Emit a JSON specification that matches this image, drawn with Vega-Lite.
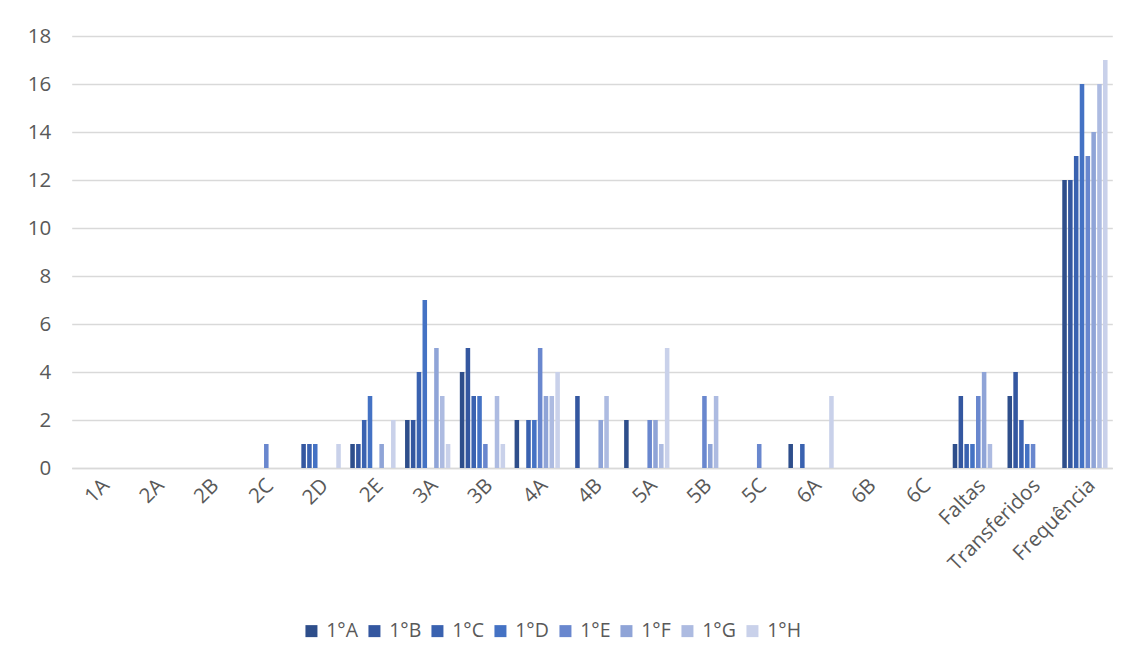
{
  "$schema": "https://vega.github.io/schema/vega-lite/v6.json",
  "width": 1040.6,
  "height": 432,
  "autosize": "none",
  "padding": {"left": 71.7, "top": 36, "right": 21.7, "bottom": 193},
  "background": "white",
  "config": {
    "view": {"stroke": null},
    "font": "Open Sans",
    "axis": {"labelFont": "Open Sans", "labelColor": "#595959", "labelFontSize": 20.5, "ticks": false, "title": null}
  },
  "data": {
    "values": [
      {"cat": "2C", "turma": "1°E", "v": 1},
      {"cat": "2D", "turma": "1°B", "v": 1},
      {"cat": "2D", "turma": "1°C", "v": 1},
      {"cat": "2D", "turma": "1°D", "v": 1},
      {"cat": "2D", "turma": "1°H", "v": 1},
      {"cat": "2E", "turma": "1°A", "v": 1},
      {"cat": "2E", "turma": "1°B", "v": 1},
      {"cat": "2E", "turma": "1°C", "v": 2},
      {"cat": "2E", "turma": "1°D", "v": 3},
      {"cat": "2E", "turma": "1°F", "v": 1},
      {"cat": "2E", "turma": "1°H", "v": 2},
      {"cat": "3A", "turma": "1°A", "v": 2},
      {"cat": "3A", "turma": "1°B", "v": 2},
      {"cat": "3A", "turma": "1°C", "v": 4},
      {"cat": "3A", "turma": "1°D", "v": 7},
      {"cat": "3A", "turma": "1°F", "v": 5},
      {"cat": "3A", "turma": "1°G", "v": 3},
      {"cat": "3A", "turma": "1°H", "v": 1},
      {"cat": "3B", "turma": "1°A", "v": 4},
      {"cat": "3B", "turma": "1°B", "v": 5},
      {"cat": "3B", "turma": "1°C", "v": 3},
      {"cat": "3B", "turma": "1°D", "v": 3},
      {"cat": "3B", "turma": "1°E", "v": 1},
      {"cat": "3B", "turma": "1°G", "v": 3},
      {"cat": "3B", "turma": "1°H", "v": 1},
      {"cat": "4A", "turma": "1°A", "v": 2},
      {"cat": "4A", "turma": "1°C", "v": 2},
      {"cat": "4A", "turma": "1°D", "v": 2},
      {"cat": "4A", "turma": "1°E", "v": 5},
      {"cat": "4A", "turma": "1°F", "v": 3},
      {"cat": "4A", "turma": "1°G", "v": 3},
      {"cat": "4A", "turma": "1°H", "v": 4},
      {"cat": "4B", "turma": "1°B", "v": 3},
      {"cat": "4B", "turma": "1°F", "v": 2},
      {"cat": "4B", "turma": "1°G", "v": 3},
      {"cat": "5A", "turma": "1°A", "v": 2},
      {"cat": "5A", "turma": "1°E", "v": 2},
      {"cat": "5A", "turma": "1°F", "v": 2},
      {"cat": "5A", "turma": "1°G", "v": 1},
      {"cat": "5A", "turma": "1°H", "v": 5},
      {"cat": "5B", "turma": "1°E", "v": 3},
      {"cat": "5B", "turma": "1°F", "v": 1},
      {"cat": "5B", "turma": "1°G", "v": 3},
      {"cat": "5C", "turma": "1°E", "v": 1},
      {"cat": "6A", "turma": "1°A", "v": 1},
      {"cat": "6A", "turma": "1°C", "v": 1},
      {"cat": "6A", "turma": "1°H", "v": 3},
      {"cat": "Faltas", "turma": "1°A", "v": 1},
      {"cat": "Faltas", "turma": "1°B", "v": 3},
      {"cat": "Faltas", "turma": "1°C", "v": 1},
      {"cat": "Faltas", "turma": "1°D", "v": 1},
      {"cat": "Faltas", "turma": "1°E", "v": 3},
      {"cat": "Faltas", "turma": "1°F", "v": 4},
      {"cat": "Faltas", "turma": "1°G", "v": 1},
      {"cat": "Transferidos", "turma": "1°A", "v": 3},
      {"cat": "Transferidos", "turma": "1°B", "v": 4},
      {"cat": "Transferidos", "turma": "1°C", "v": 2},
      {"cat": "Transferidos", "turma": "1°D", "v": 1},
      {"cat": "Transferidos", "turma": "1°E", "v": 1},
      {"cat": "Frequência", "turma": "1°A", "v": 12},
      {"cat": "Frequência", "turma": "1°B", "v": 12},
      {"cat": "Frequência", "turma": "1°C", "v": 13},
      {"cat": "Frequência", "turma": "1°D", "v": 16},
      {"cat": "Frequência", "turma": "1°E", "v": 13},
      {"cat": "Frequência", "turma": "1°F", "v": 14},
      {"cat": "Frequência", "turma": "1°G", "v": 16},
      {"cat": "Frequência", "turma": "1°H", "v": 17}
    ]
  },
  "mark": {"type": "bar"},
  "encoding": {
    "x": {
      "field": "cat", "type": "nominal", "sort": null,
      "scale": {
        "domain": ["1A","2A","2B","2C","2D","2E","3A","3B","4A","4B","5A","5B","5C","6A","6B","6C","Faltas","Transferidos","Frequência"],
        "paddingInner": 0.173, "paddingOuter": 0.0865
      },
      "axis": {"labelAngle": -45, "domainColor": "#D9D9D9", "domainWidth": 1.5, "labelPadding": 7, "grid": false}
    },
    "xOffset": {
      "field": "turma", "type": "nominal",
      "scale": {"domain": ["1°A","1°B","1°C","1°D","1°E","1°F","1°G","1°H"], "paddingInner": 0.22, "paddingOuter": 0}
    },
    "y": {
      "field": "v", "type": "quantitative",
      "scale": {"domain": [0, 18], "nice": false},
      "axis": {"values": [0,2,4,6,8,10,12,14,16,18], "domain": false, "gridColor": "#D9D9D9", "gridWidth": 1.5, "labelPadding": 21}
    },
    "color": {
      "field": "turma", "type": "nominal",
      "scale": {
        "domain": ["1°A","1°B","1°C","1°D","1°E","1°F","1°G","1°H"],
        "range": ["#2E4E8B","#3457A0","#3A62B0","#4472C4","#6987CE","#8FA4D7","#ADBBE1","#C9D1EA"]
      },
      "legend": {
        "title": null, "orient": "none", "direction": "horizontal",
        "legendX": 230, "legendY": 585,
        "symbolType": "square", "symbolSize": 144, "symbolStrokeWidth": 0,
        "labelFont": "Open Sans", "labelFontSize": 19.5, "labelColor": "#595959",
        "labelOffset": 5, "columnPadding": 6
      }
    }
  }
}
